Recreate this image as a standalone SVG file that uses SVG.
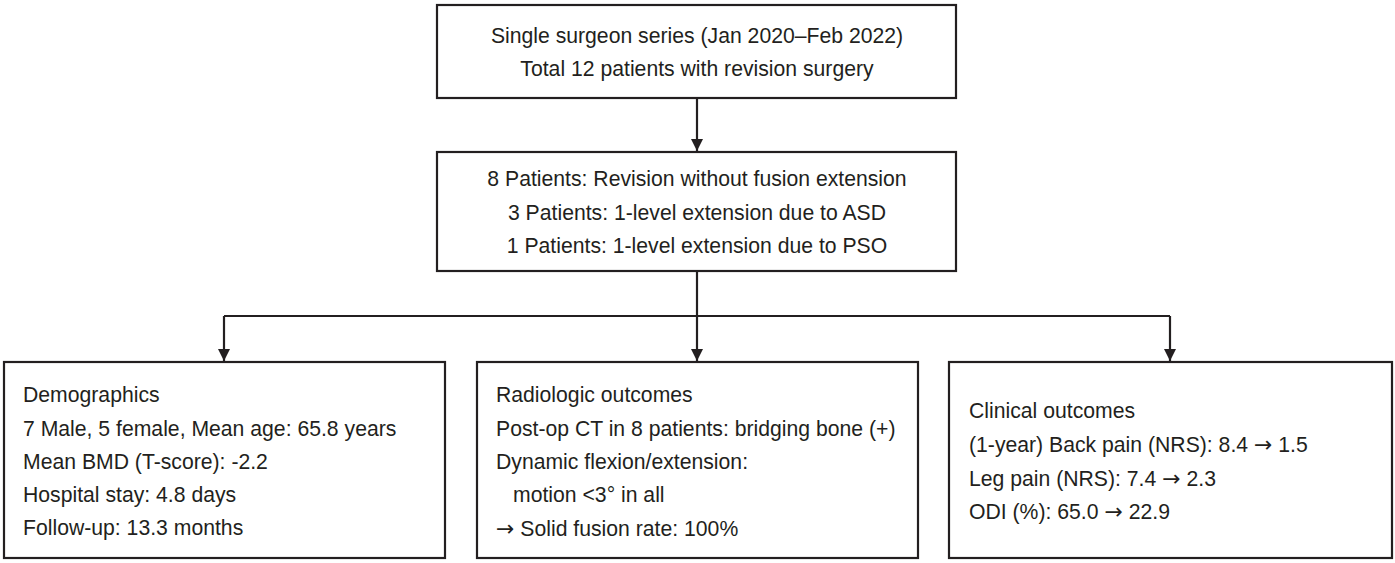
<svg xmlns="http://www.w3.org/2000/svg" width="1395" height="563" viewBox="0 0 1395 563">
  <style>
    .box { fill: #ffffff; stroke: #231f20; stroke-width: 2.2; }
    .t { font-family: "Liberation Sans", Arial, sans-serif; font-size: 21.2px; fill: #231f20; }
    .c { text-anchor: middle; }
    .a { font-family: "DejaVu Sans", sans-serif; font-size: 22px; }
    .con { fill: none; stroke: #231f20; stroke-width: 2.2; }
  </style>
  <defs>
    <marker id="arr" markerUnits="userSpaceOnUse" markerWidth="13" markerHeight="13" refX="12" refY="6.5" orient="auto" viewBox="0 0 13 13">
      <path d="M0,0.5 L12,6.5 L0,12.5 z" fill="#231f20"/>
    </marker>
  </defs>
  <rect width="1395" height="563" fill="#ffffff"/>
  <g id="connectors">
    <path class="con" d="M697,98 V151" marker-end="url(#arr)"/>
    <path class="con" d="M697,271 V361" marker-end="url(#arr)"/>
    <path class="con" d="M224,316 H1170"/>
    <path class="con" d="M224,316 V361" marker-end="url(#arr)"/>
    <path class="con" d="M1170,316 V361" marker-end="url(#arr)"/>
  </g>
  <g id="node-series">
    <rect class="box" x="437" y="5" width="519" height="93"/>
    <text class="t c" x="697" y="43">Single surgeon series (Jan 2020–Feb 2022)</text>
    <text class="t c" x="697" y="76">Total 12 patients with revision surgery</text>
  </g>
  <g id="node-groups">
    <rect class="box" x="437" y="152" width="519" height="119"/>
    <text class="t c" x="697" y="186">8 Patients: Revision without fusion extension</text>
    <text class="t c" x="697" y="220">3 Patients: 1-level extension due to ASD</text>
    <text class="t c" x="697" y="253">1 Patients: 1-level extension due to PSO</text>
  </g>
  <g id="node-demographics">
    <rect class="box" x="4" y="362" width="441" height="196"/>
    <text class="t" x="23" y="402">Demographics</text>
    <text class="t" x="23" y="436">7 Male, 5 female, Mean age: 65.8 years</text>
    <text class="t" x="23" y="469">Mean BMD (T-score): -2.2</text>
    <text class="t" x="23" y="502">Hospital stay: 4.8 days</text>
    <text class="t" x="23" y="535">Follow-up: 13.3 months</text>
  </g>
  <g id="node-radiologic">
    <rect class="box" x="477" y="362" width="441" height="196"/>
    <text class="t" x="496" y="402">Radiologic outcomes</text>
    <text class="t" x="496" y="436">Post-op CT in 8 patients: bridging bone (+)</text>
    <text class="t" x="496" y="469">Dynamic flexion/extension:</text>
    <text class="t" x="513" y="502">motion &lt;3° in all</text>
    <text class="t" x="496" y="536"><tspan class="a">→</tspan> Solid fusion rate: 100%</text>
  </g>
  <g id="node-clinical">
    <rect class="box" x="949" y="362" width="443" height="196"/>
    <text class="t" x="969" y="418">Clinical outcomes</text>
    <text class="t" x="969" y="452">(1-year) Back pain (NRS): 8.4 <tspan class="a">→</tspan> 1.5</text>
    <text class="t" x="969" y="486">Leg pain (NRS): 7.4 <tspan class="a">→</tspan> 2.3</text>
    <text class="t" x="969" y="519">ODI (%): 65.0 <tspan class="a">→</tspan> 22.9</text>
  </g>
</svg>
